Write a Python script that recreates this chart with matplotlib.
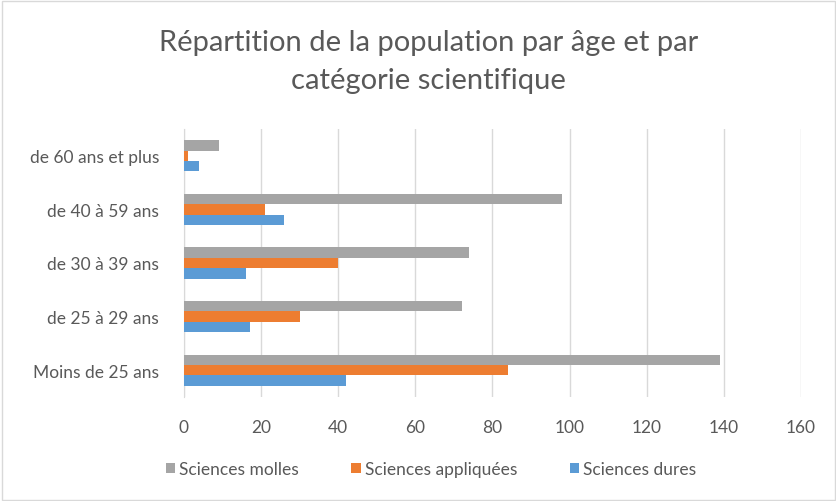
import numpy as np
import matplotlib
matplotlib.use("Agg")
import matplotlib.pyplot as plt
from matplotlib.patches import Rectangle

plt.rcParams["font.family"] = ["Lato", "DejaVu Sans"]

categories = ["Moins de 25 ans", "de 25 à 29 ans", "de 30 à 39 ans", "de 40 à 59 ans", "de 60 ans et plus"]
sciences_dures = [42, 17, 16, 26, 4]
sciences_appliquees = [84, 30, 40, 21, 1]
sciences_molles = [139, 72, 74, 98, 9]

series = [("Sciences molles", sciences_molles, "#a5a5a5"),
          ("Sciences appliquées", sciences_appliquees, "#ed7d31"),
          ("Sciences dures", sciences_dures, "#5b9bd5")]

fig = plt.figure(figsize=(8.37, 5.02), dpi=100)
fig.patches.append(Rectangle((0.002, 0.002), 0.996, 0.994, transform=fig.transFigure,
                             fill=False, ec="#d9d9d9", lw=1))
ax = fig.add_axes([184 / 837, 1 - 398 / 502, (801 - 184) / 837, (398 - 130) / 502])

y = np.arange(len(categories))
h = 0.195
offsets = [h, 0, -h]
for (lab, vals, col), off in zip(series, offsets):
    ax.barh(y + off, vals, height=h, color=col, label=lab, zorder=3)

ax.set_xlim(0, 160)
ax.set_ylim(-0.5, 4.5)
ax.set_xticks(range(0, 161, 20))
ax.set_yticks(y)
ax.set_yticklabels(categories)
ax.grid(axis="x", color="#d9d9d9", lw=1, zorder=0)
for s in ["top", "right", "bottom"]:
    ax.spines[s].set_visible(False)
ax.spines["left"].set_color("#d9d9d9")
ax.tick_params(axis="both", length=0, labelsize=12.5, colors="#595959")
ax.tick_params(axis="y", pad=18)
ax.tick_params(axis="x", pad=16)

fig.suptitle("Répartition de la population par âge et par\ncatégorie scientifique",
             x=0.512, y=0.94, fontsize=21, color="#595959", linespacing=1.55)

fig.legend(loc="center", bbox_to_anchor=(0.515, 0.064), ncol=3, frameon=False,
           fontsize=12.5, labelcolor="#595959", handlelength=0.55, handleheight=0.55,
           handletextpad=0.25, columnspacing=3.0)

fig.savefig("out.png", dpi=100)
